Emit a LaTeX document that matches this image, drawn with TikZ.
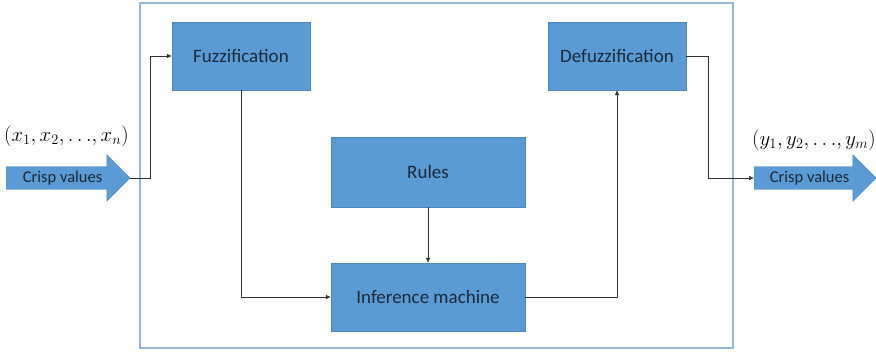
\documentclass[tikz,border=0pt]{standalone}
\usepackage{fontspec}
\setmainfont{Carlito}
\usetikzlibrary{shapes.arrows,arrows.meta}
\definecolor{khoiblue}{RGB}{91,155,213}
\definecolor{khoiedge}{RGB}{76,135,192}
\definecolor{khoitext}{RGB}{28,40,56}
\definecolor{khungblue}{RGB}{149,182,218}
\definecolor{daynoi}{RGB}{50,50,50}
\begin{document}
\begin{tikzpicture}[x=1pt, y=-1pt, font=\fontsize{19}{22}\selectfont, >={Latex[length=5pt,width=4.5pt]},
	khoi/.style={draw=khoiedge, fill=khoiblue, text=khoitext, minimum width=138pt, minimum height=68pt, inner sep=0pt},
	muiten/.style={single arrow, draw=khoiedge, fill=khoiblue, text=khoitext, font=\fontsize{16.5}{20}\selectfont, single arrow head extend=12pt, single arrow head indent=0pt, minimum height=124pt, inner ysep=4pt, inner xsep=2pt},
	nhan/.style={anchor=west, inner sep=0pt, font=\fontsize{19.5}{22}\selectfont},
	noi/.style={->, daynoi, line width=0.5pt}]
	% Khung
	\useasboundingbox (0,0) rectangle (876,352);
	\draw[khungblue, line width=1.2pt] (140,3) rectangle (733,348);
	
	% Cac khoi
	\node[khoi] (fuzz) at (241,56) {Fuzzification};
	\node[khoi] (defuzz) at (617,56) {Defuzzification};
	\node[khoi, minimum width=194pt, minimum height=70pt] (rules) at (428,172) {Rules};
	\node[khoi, minimum width=194pt] (infer) at (428,297) {Inference machine};
	
	% Mui ten vao, ra
	\node[muiten, anchor=tail] (vao) at (6,178) {Crisp values};
	\node[muiten, anchor=tail, minimum height=122pt] (ra) at (754,178) {Crisp values};
	\node[nhan] (nhanvao) at (4,136) {$(x_1, x_2, {\ldots}, x_n)$};
	\node[nhan] (nhanra) at (752,140) {$(y_1, y_2, {\ldots}, y_m)$};
	
	% Cac duong noi
	\draw[noi] (vao.tip) -- ++(20,0) |- (fuzz.west);
	\draw[noi] (fuzz.south) |- (infer.west);
	\draw[noi] (rules.south) -- (infer.north);
	\draw[noi] (infer.east) -| (defuzz.south);
	\draw[noi] (defuzz.east) -- ++(22,0) |- (ra.tail);
\end{tikzpicture}
\end{document}
